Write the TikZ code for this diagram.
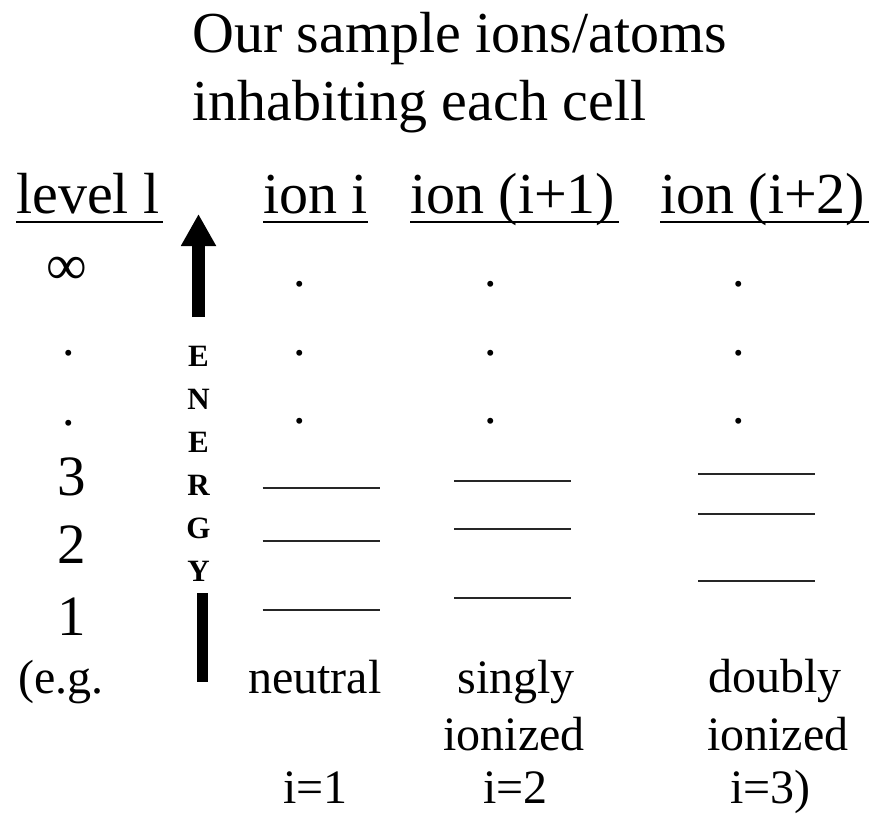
\documentclass[tikz,border=0pt]{standalone}
\usepackage{fontspec}
\setmainfont{Liberation Serif}
\usetikzlibrary{arrows.meta}
\begin{document}
\begin{tikzpicture}[x=1pt,y=-1pt,
  big/.style={font=\fontsize{58}{66}\selectfont, inner sep=0pt, anchor=base west},
  bigc/.style={font=\fontsize{57}{65}\selectfont, inner sep=0pt, anchor=base},
  small/.style={font=\fontsize{48}{56}\selectfont, inner sep=0pt, anchor=base west},
  smallc/.style={font=\fontsize{48}{56}\selectfont, inner sep=0pt, anchor=base},
  dotc/.style={font=\fontsize{50}{56}\selectfont, inner sep=0pt, anchor=base},
  letter/.style={font=\fontsize{31}{34}\selectfont\bfseries, inner sep=0pt, anchor=base},
  uline/.style={line width=2.4pt},
  levelline/.style={line width=2.6pt, draw=black!85}]
\useasboundingbox (0,0) rectangle (881,816);

% title
\node[big] (t1) at (192,53) {Our sample ions/atoms};
\node[big] (t2) at (192,120) {inhabiting each cell};

% column headings
\node[big] (h0) at (16,213) {level l};
\node[big] (h1) at (263,213) {ion i};
\node[big] (h2) at (410,213) {ion (i+1)};
\node[big] (h3) at (660,213) {ion (i+2)};
\draw[uline] (h0.west |- 0,222) -- ([xshift=3pt]h0.east |- 0,222);
\draw[uline] (h1.west |- 0,222) -- (h1.east |- 0,222);
\draw[uline] (h2.west |- 0,222) -- ([xshift=4pt]h2.east |- 0,222);
\draw[uline] (h3.west |- 0,222) -- ([xshift=4pt]h3.east |- 0,222);

% level numbers
\node[inner sep=0pt, font=\fontsize{57}{65}\selectfont] (inf) at (67,271) {∞};
\node[dotc] (ld1) at (69,355) {.};
\node[dotc] (ld2) at (69,425) {.};
\node[bigc] (l3) at (72,495) {3};
\node[bigc] (l2) at (72,563) {2};
\node[bigc] (l1) at (72,635) {1};
\node[small] (eg) at (18,693) {(e.g.};

% energy axis
\coordinate (ea) at (198.5,317);
\coordinate (eb) at (198.5,214);
\draw[line width=12.5pt, -{Triangle[width=33pt,length=32pt]}] (ea) -- (eb);
\coordinate (ec) at (202.5,593);
\coordinate (ed) at (202.5,682);
\draw[line width=11.5pt] (ec) -- (ed);
\node[letter] (e1) at (198.5,366) {E};
\node[letter] (e2) at (198.5,409) {N};
\node[letter] (e3) at (198.5,452) {E};
\node[letter] (e4) at (198.5,495) {R};
\node[letter] (e5) at (198.5,538) {G};
\node[letter] (e6) at (198.5,581) {Y};

% dots above the bound levels
\foreach \x/\c in {300/a,491/b,739/c}{
  \node[dotc] (d\c1) at (\x,286) {.};
  \node[dotc] (d\c2) at (\x,355) {.};
  \node[dotc] (d\c3) at (\x,423) {.};
}

% energy levels of each ion
\draw[levelline] (262.5,488) -- (380,488);
\draw[levelline] (262.5,541) -- (380,541);
\draw[levelline] (262.5,610) -- (380,610);
\draw[levelline] (454,481) -- (571,481);
\draw[levelline] (454,529) -- (571,529);
\draw[levelline] (454,598) -- (571,598);
\draw[levelline] (698,474) -- (815,474);
\draw[levelline] (698,514) -- (815,514);
\draw[levelline] (698,581) -- (815,581);

% ionisation stage labels
\node[small] (n1) at (248,693) {neutral};
\node[smallc] (n2) at (516,693) {singly};
\node[smallc] (n2b) at (514,750) {ionized};
\node[small] (n3) at (708,692) {doubly};
\node[small] (n3b) at (707,750) {ionized};
\node[small] (s1) at (283,803) {i=1};
\node[small] (s2) at (483,803) {i=2};
\node[small] (s3) at (730,803) {i=3)};
\end{tikzpicture}
\end{document}
